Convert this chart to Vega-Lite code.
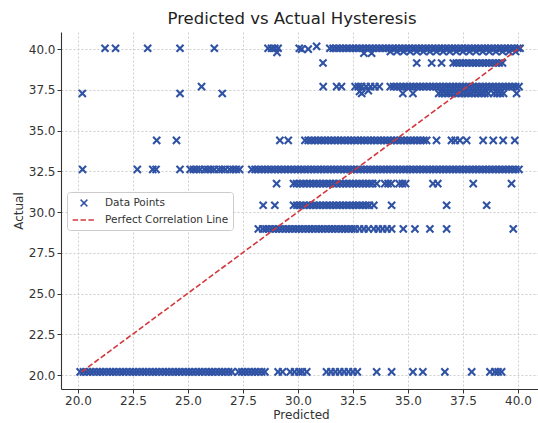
{
"$schema":"https://vega.github.io/schema/vega-lite/v6.json",
"width":480,"height":357,
"autosize":"none",
"padding":{"left":61,"top":32,"right":0,"bottom":34},
"background":"white",
"title":{"text":"Predicted vs Actual Hysteresis","fontSize":16.5,"font":"DejaVu Sans","fontWeight":"normal","color":"#222222","dx":-9,"offset":5},
"config":{
 "view":{"stroke":null},
 "axis":{"grid":true,"gridColor":"#c8c8c8","gridDash":[2,2],"gridWidth":0.9,"domainColor":"#333333","domainWidth":1.1,"tickColor":"#333333","tickSize":4,"labelFont":"DejaVu Sans","labelFontSize":12,"labelColor":"#333333","labelPadding":2,"titleFont":"DejaVu Sans","titleFontSize":12,"titleFontWeight":"normal","titleColor":"#333333","titlePadding":3}
},
"layer":[
{"data":{"values":[
{"p":21.23,"a":40.05},{"p":21.71,"a":40.05},{"p":23.17,"a":40.05},{"p":24.64,"a":40.05},{"p":26.2,"a":40.05},{"p":28.64,"a":40.05},{"p":28.8,"a":40.05},{"p":28.95,"a":40.05},{"p":29.1,"a":40.05},{"p":29.05,"a":39.8},{"p":30.06,"a":40.05},{"p":30.17,"a":40.0},{"p":30.47,"a":40.0},{"p":30.85,"a":40.17},
{"p":31.45,"a":40.05},{"p":31.6,"a":40.05},{"p":31.75,"a":40.05},{"p":31.9,"a":40.05},{"p":32.05,"a":40.05},{"p":32.2,"a":40.05},{"p":32.35,"a":40.05},{"p":32.5,"a":40.05},{"p":32.65,"a":40.05},{"p":32.8,"a":40.05},{"p":32.95,"a":40.05},{"p":33.1,"a":40.05},{"p":33.25,"a":40.05},{"p":33.4,"a":40.05},{"p":33.55,"a":40.05},{"p":33.7,"a":40.05},{"p":33.85,"a":40.05},{"p":34.0,"a":40.05},{"p":34.15,"a":40.05},{"p":34.3,"a":40.05},{"p":34.45,"a":40.05},{"p":34.6,"a":40.05},{"p":34.75,"a":40.05},{"p":34.9,"a":40.05},{"p":35.05,"a":40.05},{"p":35.2,"a":40.05},{"p":35.35,"a":40.05},{"p":35.5,"a":40.05},{"p":35.65,"a":40.05},{"p":35.8,"a":40.05},{"p":35.95,"a":40.05},{"p":36.1,"a":40.05},{"p":36.25,"a":40.05},{"p":36.4,"a":40.05},{"p":36.55,"a":40.05},{"p":36.7,"a":40.05},{"p":36.85,"a":40.05},{"p":37.0,"a":40.05},{"p":37.15,"a":40.05},{"p":37.3,"a":40.05},{"p":37.45,"a":40.05},{"p":37.6,"a":40.05},{"p":37.75,"a":40.05},{"p":37.9,"a":40.05},{"p":38.05,"a":40.05},{"p":38.2,"a":40.05},{"p":38.35,"a":40.05},{"p":38.5,"a":40.05},{"p":38.65,"a":40.05},{"p":38.8,"a":40.05},{"p":38.95,"a":40.05},{"p":39.1,"a":40.05},{"p":39.25,"a":40.05},{"p":39.4,"a":40.05},{"p":39.55,"a":40.05},{"p":39.7,"a":40.05},{"p":39.85,"a":40.05},{"p":40.0,"a":40.05},{"p":40.1,"a":40.05},
{"p":33.0,"a":39.75},{"p":33.35,"a":39.75},{"p":34.2,"a":39.85},{"p":34.5,"a":39.85},{"p":34.8,"a":39.85},{"p":35.1,"a":39.85},{"p":35.4,"a":39.85},{"p":35.7,"a":39.85},{"p":36.0,"a":39.85},{"p":36.3,"a":39.85},{"p":36.6,"a":39.85},{"p":36.9,"a":39.85},{"p":37.2,"a":39.85},{"p":37.5,"a":39.85},{"p":37.8,"a":39.85},{"p":38.1,"a":39.85},{"p":38.4,"a":39.85},{"p":38.7,"a":39.85},{"p":39.0,"a":39.85},{"p":39.3,"a":39.85},{"p":39.6,"a":39.85},{"p":39.9,"a":39.85},
{"p":31.14,"a":39.15},{"p":35.4,"a":39.15},{"p":36.08,"a":39.15},{"p":36.53,"a":39.15},{"p":37.06,"a":39.15},{"p":37.2,"a":39.15},{"p":37.35,"a":39.15},{"p":37.5,"a":39.15},{"p":37.65,"a":39.15},{"p":37.8,"a":39.15},{"p":37.95,"a":39.15},{"p":38.1,"a":39.15},{"p":38.25,"a":39.15},{"p":38.4,"a":39.15},{"p":38.55,"a":39.15},{"p":38.7,"a":39.15},{"p":38.85,"a":39.15},{"p":39.0,"a":39.15},{"p":39.15,"a":39.15},{"p":39.3,"a":39.15},
{"p":25.62,"a":37.7},{"p":31.15,"a":37.7},{"p":31.76,"a":37.7},{"p":31.98,"a":37.7},{"p":32.6,"a":37.7},{"p":32.75,"a":37.7},{"p":32.9,"a":37.7},{"p":33.1,"a":37.7},{"p":33.3,"a":37.7},{"p":33.5,"a":37.7},{"p":33.7,"a":37.7},{"p":32.8,"a":37.4},{"p":33.2,"a":37.45},
{"p":34.2,"a":37.7},{"p":34.35,"a":37.7},{"p":34.5,"a":37.7},{"p":34.65,"a":37.7},{"p":34.8,"a":37.7},{"p":34.95,"a":37.7},{"p":35.1,"a":37.7},{"p":35.25,"a":37.7},{"p":35.4,"a":37.7},{"p":35.55,"a":37.7},{"p":35.7,"a":37.7},{"p":35.85,"a":37.7},{"p":36.0,"a":37.7},{"p":36.15,"a":37.7},{"p":36.3,"a":37.7},{"p":36.45,"a":37.7},{"p":36.6,"a":37.7},{"p":36.75,"a":37.7},{"p":36.9,"a":37.7},{"p":37.05,"a":37.7},{"p":37.2,"a":37.7},{"p":37.35,"a":37.7},{"p":37.5,"a":37.7},{"p":37.65,"a":37.7},{"p":37.8,"a":37.7},{"p":37.95,"a":37.7},{"p":38.1,"a":37.7},{"p":38.25,"a":37.7},{"p":38.4,"a":37.7},{"p":38.55,"a":37.7},{"p":38.7,"a":37.7},{"p":38.85,"a":37.7},{"p":39.0,"a":37.7},{"p":39.15,"a":37.7},{"p":39.3,"a":37.7},{"p":39.45,"a":37.7},{"p":39.6,"a":37.7},{"p":39.75,"a":37.7},{"p":39.9,"a":37.7},{"p":40.05,"a":37.7},
{"p":20.2,"a":37.28},{"p":24.64,"a":37.28},{"p":26.56,"a":37.28},{"p":32.9,"a":37.28},{"p":34.77,"a":37.28},{"p":35.23,"a":37.28},{"p":36.4,"a":37.28},{"p":36.55,"a":37.28},{"p":36.7,"a":37.28},{"p":36.85,"a":37.28},{"p":37.0,"a":37.28},{"p":37.15,"a":37.28},{"p":37.3,"a":37.28},{"p":37.45,"a":37.28},{"p":37.6,"a":37.28},{"p":37.75,"a":37.28},{"p":37.9,"a":37.28},{"p":38.05,"a":37.28},{"p":38.2,"a":37.28},{"p":38.35,"a":37.28},{"p":38.5,"a":37.28},{"p":38.65,"a":37.28},{"p":38.9,"a":37.28},{"p":39.05,"a":37.28},{"p":39.2,"a":37.28},{"p":39.35,"a":37.28},{"p":39.94,"a":37.28},
{"p":23.58,"a":34.4},{"p":24.48,"a":34.4},{"p":29.18,"a":34.4},{"p":29.56,"a":34.4},{"p":30.32,"a":34.4},{"p":30.47,"a":34.4},{"p":30.62,"a":34.4},{"p":30.77,"a":34.4},{"p":30.92,"a":34.4},{"p":31.07,"a":34.4},{"p":31.22,"a":34.4},{"p":31.37,"a":34.4},{"p":31.52,"a":34.4},{"p":31.67,"a":34.4},{"p":31.82,"a":34.4},{"p":31.97,"a":34.4},{"p":32.12,"a":34.4},{"p":32.27,"a":34.4},{"p":32.42,"a":34.4},{"p":32.57,"a":34.4},{"p":32.72,"a":34.4},{"p":32.87,"a":34.4},{"p":33.02,"a":34.4},{"p":33.17,"a":34.4},{"p":33.32,"a":34.4},{"p":33.47,"a":34.4},{"p":33.62,"a":34.4},{"p":33.77,"a":34.4},{"p":33.92,"a":34.4},{"p":34.07,"a":34.4},{"p":34.22,"a":34.4},{"p":34.37,"a":34.4},{"p":34.52,"a":34.4},{"p":34.67,"a":34.4},{"p":34.82,"a":34.4},{"p":34.97,"a":34.4},{"p":35.12,"a":34.4},{"p":35.27,"a":34.4},{"p":35.42,"a":34.4},{"p":35.57,"a":34.4},{"p":35.72,"a":34.4},{"p":35.85,"a":34.4},{"p":36.3,"a":34.4},{"p":36.98,"a":34.4},{"p":37.15,"a":34.4},{"p":37.36,"a":34.4},{"p":37.67,"a":34.4},{"p":38.42,"a":34.4},{"p":38.88,"a":34.4},{"p":39.33,"a":34.4},{"p":39.86,"a":34.4},
{"p":20.21,"a":32.62},{"p":22.7,"a":32.62},{"p":23.4,"a":32.62},{"p":23.55,"a":32.62},{"p":24.64,"a":32.62},{"p":25.1,"a":32.62},{"p":25.25,"a":32.62},{"p":25.4,"a":32.62},{"p":25.55,"a":32.62},{"p":25.75,"a":32.62},{"p":25.9,"a":32.62},{"p":26.05,"a":32.62},{"p":26.2,"a":32.62},{"p":26.4,"a":32.62},{"p":26.55,"a":32.62},{"p":26.7,"a":32.62},{"p":26.9,"a":32.62},{"p":27.05,"a":32.62},{"p":27.2,"a":32.62},{"p":27.35,"a":32.62},
{"p":27.9,"a":32.62},{"p":28.05,"a":32.62},{"p":28.2,"a":32.62},{"p":28.35,"a":32.62},{"p":28.5,"a":32.62},{"p":28.65,"a":32.62},{"p":28.8,"a":32.62},{"p":28.95,"a":32.62},{"p":29.1,"a":32.62},{"p":29.25,"a":32.62},{"p":29.4,"a":32.62},{"p":29.55,"a":32.62},{"p":29.7,"a":32.62},{"p":29.85,"a":32.62},{"p":30.0,"a":32.62},{"p":30.15,"a":32.62},{"p":30.3,"a":32.62},{"p":30.45,"a":32.62},{"p":30.6,"a":32.62},{"p":30.75,"a":32.62},{"p":30.9,"a":32.62},{"p":31.05,"a":32.62},{"p":31.2,"a":32.62},{"p":31.35,"a":32.62},{"p":31.5,"a":32.62},{"p":31.65,"a":32.62},{"p":31.8,"a":32.62},{"p":31.95,"a":32.62},{"p":32.1,"a":32.62},{"p":32.25,"a":32.62},{"p":32.4,"a":32.62},{"p":32.55,"a":32.62},{"p":32.7,"a":32.62},{"p":32.85,"a":32.62},{"p":33.0,"a":32.62},{"p":33.15,"a":32.62},{"p":33.3,"a":32.62},{"p":33.45,"a":32.62},{"p":33.6,"a":32.62},{"p":33.75,"a":32.62},{"p":33.9,"a":32.62},{"p":34.05,"a":32.62},{"p":34.2,"a":32.62},{"p":34.35,"a":32.62},{"p":34.5,"a":32.62},{"p":34.65,"a":32.62},{"p":34.8,"a":32.62},{"p":34.95,"a":32.62},{"p":35.1,"a":32.62},{"p":35.25,"a":32.62},{"p":35.4,"a":32.62},{"p":35.55,"a":32.62},{"p":35.7,"a":32.62},{"p":35.85,"a":32.62},{"p":36.0,"a":32.62},{"p":36.15,"a":32.62},{"p":36.3,"a":32.62},{"p":36.45,"a":32.62},{"p":36.6,"a":32.62},{"p":36.75,"a":32.62},{"p":36.9,"a":32.62},{"p":37.05,"a":32.62},{"p":37.2,"a":32.62},{"p":37.35,"a":32.62},{"p":37.5,"a":32.62},{"p":37.65,"a":32.62},{"p":37.8,"a":32.62},{"p":37.95,"a":32.62},{"p":38.1,"a":32.62},{"p":38.25,"a":32.62},{"p":38.4,"a":32.62},{"p":38.55,"a":32.62},{"p":38.7,"a":32.62},{"p":38.85,"a":32.62},{"p":39.0,"a":32.62},{"p":39.15,"a":32.62},{"p":39.3,"a":32.62},{"p":39.45,"a":32.62},{"p":39.6,"a":32.62},{"p":39.75,"a":32.62},{"p":39.9,"a":32.62},{"p":40.05,"a":32.62},
{"p":29.03,"a":31.75},{"p":29.8,"a":31.75},{"p":29.94,"a":31.75},{"p":30.1,"a":31.75},{"p":30.25,"a":31.75},{"p":30.4,"a":31.75},{"p":30.55,"a":31.75},{"p":30.7,"a":31.75},{"p":30.85,"a":31.75},{"p":31.0,"a":31.75},{"p":31.15,"a":31.75},{"p":31.3,"a":31.75},{"p":31.45,"a":31.75},{"p":31.6,"a":31.75},{"p":31.75,"a":31.75},{"p":31.9,"a":31.75},{"p":32.05,"a":31.75},{"p":32.2,"a":31.75},{"p":32.35,"a":31.75},{"p":32.5,"a":31.75},{"p":32.65,"a":31.75},{"p":32.8,"a":31.75},{"p":32.95,"a":31.75},{"p":33.1,"a":31.75},{"p":33.25,"a":31.75},{"p":33.4,"a":31.75},{"p":33.58,"a":31.75},{"p":33.95,"a":31.75},{"p":34.1,"a":31.75},{"p":34.25,"a":31.75},{"p":34.6,"a":31.75},{"p":34.75,"a":31.75},{"p":34.9,"a":31.75},{"p":36.14,"a":31.75},{"p":36.36,"a":31.75},{"p":37.97,"a":31.75},{"p":39.71,"a":31.75},
{"p":28.42,"a":30.42},{"p":28.95,"a":30.42},{"p":29.8,"a":30.42},{"p":29.95,"a":30.42},{"p":30.1,"a":30.42},{"p":30.25,"a":30.42},{"p":30.4,"a":30.42},{"p":30.55,"a":30.42},{"p":30.7,"a":30.42},{"p":30.85,"a":30.42},{"p":31.0,"a":30.42},{"p":31.15,"a":30.42},{"p":31.3,"a":30.42},{"p":31.45,"a":30.42},{"p":31.6,"a":30.42},{"p":31.75,"a":30.42},{"p":31.9,"a":30.42},{"p":32.05,"a":30.42},{"p":32.2,"a":30.42},{"p":32.35,"a":30.42},{"p":32.5,"a":30.42},{"p":32.65,"a":30.42},{"p":32.8,"a":30.42},{"p":32.95,"a":30.42},{"p":33.1,"a":30.42},{"p":33.25,"a":30.42},{"p":33.45,"a":30.42},{"p":34.26,"a":30.42},{"p":36.76,"a":30.42},{"p":38.58,"a":30.42},
{"p":28.2,"a":28.97},{"p":28.4,"a":28.97},{"p":28.55,"a":28.97},{"p":28.7,"a":28.97},{"p":28.85,"a":28.97},{"p":29.0,"a":28.97},{"p":29.15,"a":28.97},{"p":29.3,"a":28.97},{"p":29.45,"a":28.97},{"p":29.6,"a":28.97},{"p":29.75,"a":28.97},{"p":29.9,"a":28.97},{"p":30.05,"a":28.97},{"p":30.2,"a":28.97},{"p":30.35,"a":28.97},{"p":30.5,"a":28.97},{"p":30.65,"a":28.97},{"p":30.8,"a":28.97},{"p":30.95,"a":28.97},{"p":31.1,"a":28.97},{"p":31.25,"a":28.97},{"p":31.4,"a":28.97},{"p":31.55,"a":28.97},{"p":31.7,"a":28.97},{"p":31.85,"a":28.97},{"p":32.0,"a":28.97},{"p":32.15,"a":28.97},{"p":32.3,"a":28.97},{"p":32.45,"a":28.97},{"p":32.6,"a":28.97},{"p":32.8,"a":28.97},{"p":33.0,"a":28.97},{"p":33.2,"a":28.97},{"p":33.45,"a":28.97},{"p":33.65,"a":28.97},{"p":33.85,"a":28.97},{"p":34.05,"a":28.97},{"p":34.26,"a":28.97},{"p":34.79,"a":28.97},{"p":35.32,"a":28.97},{"p":36.0,"a":28.97},{"p":36.76,"a":28.97},{"p":39.79,"a":28.97},
{"p":20.1,"a":20.2},{"p":20.25,"a":20.2},{"p":20.4,"a":20.2},{"p":20.55,"a":20.2},{"p":20.7,"a":20.2},{"p":20.85,"a":20.2},{"p":21.0,"a":20.2},{"p":21.15,"a":20.2},{"p":21.3,"a":20.2},{"p":21.45,"a":20.2},{"p":21.6,"a":20.2},{"p":21.75,"a":20.2},{"p":21.9,"a":20.2},{"p":22.05,"a":20.2},{"p":22.2,"a":20.2},{"p":22.35,"a":20.2},{"p":22.5,"a":20.2},{"p":22.65,"a":20.2},{"p":22.8,"a":20.2},{"p":22.95,"a":20.2},{"p":23.1,"a":20.2},{"p":23.25,"a":20.2},{"p":23.4,"a":20.2},{"p":23.55,"a":20.2},{"p":23.7,"a":20.2},{"p":23.85,"a":20.2},{"p":24.0,"a":20.2},{"p":24.15,"a":20.2},{"p":24.3,"a":20.2},{"p":24.45,"a":20.2},{"p":24.6,"a":20.2},{"p":24.75,"a":20.2},{"p":24.9,"a":20.2},{"p":25.05,"a":20.2},{"p":25.2,"a":20.2},{"p":25.35,"a":20.2},{"p":25.5,"a":20.2},{"p":25.65,"a":20.2},{"p":25.8,"a":20.2},{"p":25.95,"a":20.2},{"p":26.1,"a":20.2},{"p":26.25,"a":20.2},{"p":26.4,"a":20.2},{"p":26.55,"a":20.2},{"p":26.7,"a":20.2},{"p":26.85,"a":20.2},{"p":27.0,"a":20.2},
{"p":27.3,"a":20.2},{"p":27.45,"a":20.2},{"p":27.6,"a":20.2},{"p":27.75,"a":20.2},{"p":27.9,"a":20.2},{"p":28.05,"a":20.2},{"p":28.2,"a":20.2},{"p":28.35,"a":20.2},{"p":28.5,"a":20.2},{"p":29.1,"a":20.2},{"p":29.3,"a":20.2},{"p":29.65,"a":20.2},{"p":29.85,"a":20.2},{"p":30.05,"a":20.2},{"p":30.2,"a":20.2},{"p":30.4,"a":20.2},{"p":31.3,"a":20.2},{"p":31.5,"a":20.2},{"p":31.7,"a":20.2},{"p":31.9,"a":20.2},{"p":32.1,"a":20.2},{"p":32.3,"a":20.2},{"p":32.5,"a":20.2},{"p":32.7,"a":20.2},{"p":33.58,"a":20.2},{"p":34.26,"a":20.2},{"p":35.23,"a":20.2},{"p":35.68,"a":20.2},{"p":36.68,"a":20.2},{"p":37.9,"a":20.2},{"p":38.73,"a":20.2},{"p":38.95,"a":20.2},{"p":39.1,"a":20.2},{"p":39.26,"a":20.2}
]},
"mark":{"type":"point","filled":false,"strokeWidth":2.1,"size":140,"opacity":1},
"encoding":{
 "x":{"field":"p","type":"quantitative","title":"Predicted","scale":{"domain":[19.23,41.05],"nice":false,"zero":false},"axis":{"values":[20,22.5,25,27.5,30,32.5,35,37.5,40],"format":".1f"}},
 "y":{"field":"a","type":"quantitative","title":"Actual","scale":{"domain":[19.15,41.05],"nice":false,"zero":false},"axis":{"values":[20,22.5,25,27.5,30,32.5,35,37.5,40],"format":".1f"}},
 "color":{"datum":"Data Points","type":"nominal","scale":{"domain":["Data Points","Perfect Correlation Line"],"range":["#2f52a4","#d4373c"]},"legend":{"title":null,"orient":"none","legendX":6,"legendY":160,"padding":4,"strokeColor":"#cccccc","fillColor":"#ffffff","cornerRadius":3,"labelFont":"DejaVu Sans","labelFontSize":10.5,"labelColor":"#333333","symbolSize":130,"symbolStrokeWidth":1.6,"symbolOffset":6,"labelOffset":14,"rowPadding":3}},
 "shape":{"datum":"Data Points","type":"nominal","scale":{"domain":["Data Points","Perfect Correlation Line"],"range":["M-0.6,-0.6L0.6,0.6M-0.6,0.6L0.6,-0.6","M-2,0L2,0"]},"legend":{"title":null,"orient":"none","legendX":6,"legendY":160,"padding":4,"strokeColor":"#cccccc","fillColor":"#ffffff","cornerRadius":3,"labelFont":"DejaVu Sans","labelFontSize":10.5,"labelColor":"#333333","symbolSize":130,"symbolStrokeWidth":1.6,"symbolOffset":6,"labelOffset":14,"rowPadding":3}},
 "strokeDash":{"datum":"Data Points","type":"nominal","scale":{"domain":["Data Points","Perfect Correlation Line"],"range":[[1,0],[5.5,2.4]]},"legend":{"title":null,"orient":"none","legendX":6,"legendY":160,"padding":4,"strokeColor":"#cccccc","fillColor":"#ffffff","cornerRadius":3,"labelFont":"DejaVu Sans","labelFontSize":10.5,"labelColor":"#333333","symbolSize":130,"symbolStrokeWidth":1.6,"symbolOffset":6,"labelOffset":14,"rowPadding":3}}
}},
{"data":{"values":[{"p":20.17,"a":20.2},{"p":40.15,"a":40.15}]},
"mark":{"type":"line","strokeWidth":1.6},
"encoding":{
 "x":{"field":"p","type":"quantitative"},
 "y":{"field":"a","type":"quantitative"},
 "color":{"datum":"Perfect Correlation Line","type":"nominal"},
 "strokeDash":{"datum":"Perfect Correlation Line","type":"nominal"}
}}
]
}
